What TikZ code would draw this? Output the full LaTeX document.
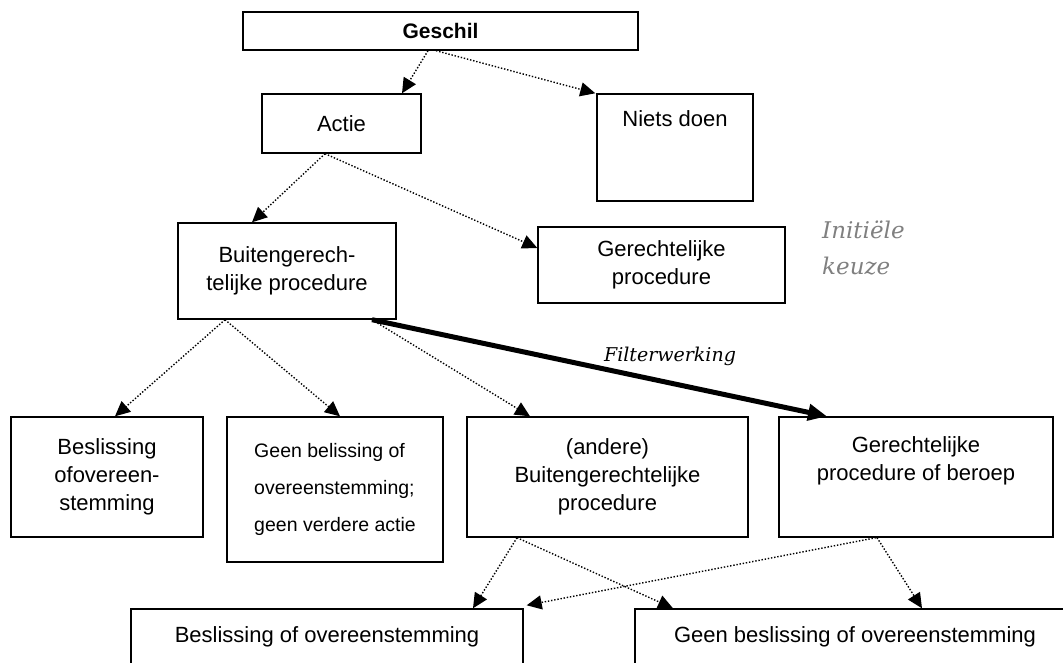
\documentclass[tikz,border=0pt]{standalone}
\usepackage{fontspec}
\setmainfont{Liberation Sans}
\newfontfamily\serifit{DejaVu Serif}
\usetikzlibrary{arrows.meta}
\begin{document}
\begin{tikzpicture}[x=1pt,y=-1pt,
  box/.style={draw, line width=1.4pt, inner sep=0pt, align=center, font=\fontsize{22}{28}\selectfont},
  lbl/.style={inner sep=0pt, align=center, font=\fontsize{22}{28}\selectfont},
  dotarrow/.style={line width=1.4pt, dash pattern=on 1.4pt off 1.8pt, -{Triangle[length=15pt,width=14pt]}},
  thickarrow/.style={line width=5pt, -{Triangle[length=19pt,width=16pt]}},
  serifnote/.style={inner sep=0pt, font=\serifit\itshape\fontsize{19}{22}\selectfont}
]
\clip (0,0) rectangle (1063,663);
% row 1
\node[box, minimum width=395pt, minimum height=38pt, font=\bfseries\fontsize{21}{26}\selectfont] (geschil) at (440.5,31) {Geschil};
% row 2
\node[box, minimum width=159pt, minimum height=59pt] (actie) at (341.5,123.5) {Actie};
\node[box, minimum width=156pt, minimum height=107pt] (niets) at (675,147.5) {};
\node[lbl, anchor=base] (nietst) at (675,127) {Niets doen};
% row 3
\node[box, minimum width=218pt, minimum height=96pt] (buiten) at (287,271) {Buitengerech-\\telijke procedure};
\node[box, minimum width=247pt, minimum height=76pt] (gerecht) at (661.5,265) {Gerechtelijke\\procedure};
\node[inner sep=0pt, anchor=north west, align=left, text=black!50, font=\serifit\itshape\fontsize{23}{36}\selectfont] (keuze) at (822,221) {Initiële\\keuze};
% row 4
\node[box, minimum width=192pt, minimum height=120pt] (besl1) at (107,477) {Beslissing\\ofovereen-\\stemming};
\node[box, minimum width=216pt, minimum height=145pt, align=left, font=\fontsize{19.5}{37}\selectfont] (geen1) at (335,489.5) {Geen belissing of\\overeenstemming;\\geen verdere actie};
\node[box, minimum width=281pt, minimum height=120pt] (andere) at (607.5,477) {(andere)\\Buitengerechtelijke\\procedure};
\node[box, minimum width=274pt, minimum height=120pt] (beroep) at (916,477) {};
\node[lbl, anchor=north] (beroept) at (916,436) {Gerechtelijke\\procedure of beroep};
% row 5
\node[box, minimum width=392pt, minimum height=91pt] (besl2) at (327,654.5) {};
\node[lbl, anchor=base] (besl2t) at (327,642) {Beslissing of overeenstemming};
\node[box, minimum width=440pt, minimum height=91pt] (geen2) at (855,654.5) {};
\node[lbl, anchor=base] (geen2t) at (855,642) {Geen beslissing of overeenstemming};
% connectors
\draw[dotarrow] ([xshift=-12.5pt]geschil.south) -- ([xshift=60.5pt]actie.north);
\draw[dotarrow] ([xshift=-4.5pt]geschil.south) -- ([xshift=-1pt]niets.north west);
\draw[dotarrow] ([xshift=-16.5pt]actie.south) -- ([xshift=-35pt]buiten.north);
\draw[dotarrow] ([xshift=-16.5pt]actie.south) -- ([yshift=17pt]gerecht.west);
\draw[dotarrow] ([xshift=-62pt]buiten.south) -- ([xshift=8pt]besl1.north);
\draw[dotarrow] ([xshift=-62pt]buiten.south) -- ([xshift=5pt]geen1.north);
\draw[dotarrow] ([xshift=85pt]buiten.south) -- ([xshift=-77.5pt]andere.north);
\draw[thickarrow] ([xshift=85pt]buiten.south) -- ([xshift=-89pt]beroep.north);
\node[serifnote, anchor=base] (filter) at (670,361) {Filterwerking};
\draw[dotarrow] ([xshift=-90.5pt]andere.south) -- ([xshift=146pt]besl2.north);
\draw[dotarrow] ([xshift=-90.5pt]andere.south) -- ([xshift=-182pt]geen2.north);
\draw[dotarrow] ([xshift=-40pt]beroep.south) -- ([xshift=3pt,yshift=3pt]besl2.north east);
\draw[dotarrow] ([xshift=-39pt]beroep.south) -- ([xshift=67pt]geen2.north);
\end{tikzpicture}
\end{document}
